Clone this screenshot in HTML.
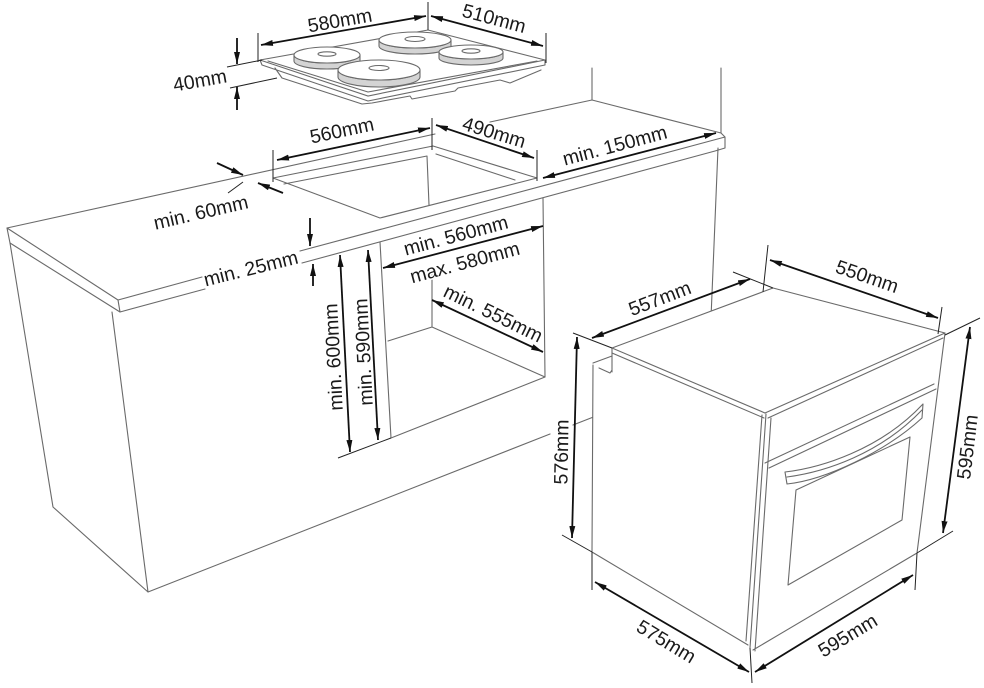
<!DOCTYPE html>
<html><head><meta charset="utf-8"><style>
html,body{margin:0;padding:0;background:#fff;}
svg{display:block;}
.o{stroke:#6a6a6a;stroke-width:1.1;fill:none;stroke-linecap:round;stroke-linejoin:round}
.d{stroke:#111;stroke-width:1.8;fill:none}
.e{stroke:#222;stroke-width:1;fill:none}
text{font-family:"Liberation Sans",Arial,sans-serif;font-size:19.5px;fill:#1a1a1a;text-anchor:middle;dominant-baseline:central;stroke:#fff;stroke-width:3;paint-order:stroke;}
</style></head><body>
<svg width="984" height="688" viewBox="0 0 984 688">
<defs><marker id="a" viewBox="0 0 12 6" refX="12" refY="3" markerWidth="12" markerHeight="6" markerUnits="userSpaceOnUse" orient="auto-start-reverse"><path d="M0,0 L12,3 L0,6 z" fill="#111"/></marker></defs>

<!-- walls -->
<path class="o" d="M592,68 L592,100 M721,68 L721,133"/>

<!-- countertop -->
<path class="o" d="M7,228 L435,134 M490,122 L592,100 L721,133 L725,137 L725,148 L715,151 M7,228 L118,300 L120,312 M7,228 L10,243 L120,312 M118,300 L202,277 M300,251 L725,137 M120,312 L205,289 M302,263 L715,151"/>

<!-- hob cutout -->
<path class="o" d="M273,178 L433,146 L537,178 L380,218 Z M284,184 L427,156 M427,156 L429,205 M436,154 L515,180"/>

<!-- cabinet -->
<path class="o" d="M10,243 L53,507 L148,592 L112,312 M148,592 L550,434 M573,425 L596,416 M718,148 L711,318"/>

<!-- niche -->
<path class="o" d="M380,242 L391,438 L545,377 L543,198 M432,275 L432,327 L388,341 M432,327 L545,377"/>
<path class="e" d="M338,458 L391,438"/>

<!-- hob -->
<polygon points="260,60 428,30 545,60 368,96" fill="#fff" stroke="#6a6a6a" stroke-width="1.1"/>
<path class="o" d="M260,60 L262,65 L368,101 L545,65 L545,60 M268,61 L368,92 L537,61 M275,68 L282,78 L362,104 L372,103 L410,96 L412,99 L455,91 L458,88 L500,80 L510,83 L541,70"/>
<!-- burners -->
<g stroke="#6a6a6a" stroke-width="1.1">
<path d="M379,40 A36,8 0 0 0 451,40 L451,46 A36,8 0 0 1 379,46 Z" fill="#d4d4d4"/>
<ellipse cx="415" cy="40" rx="36" ry="8" fill="#fff"/>
<ellipse cx="415" cy="39" rx="10" ry="2.5" fill="#fff"/>
<path d="M294,55 A33,8 0 0 0 360,55 L360,61 A33,8 0 0 1 294,61 Z" fill="#d4d4d4"/>
<ellipse cx="327" cy="55" rx="33" ry="8" fill="#fff"/>
<ellipse cx="327" cy="54" rx="9" ry="2.2" fill="#fff"/>
<path d="M439,52 A32,7 0 0 0 503,52 L503,58 A32,7 0 0 1 439,58 Z" fill="#d4d4d4"/>
<ellipse cx="471" cy="52" rx="32" ry="7" fill="#fff"/>
<ellipse cx="471" cy="51" rx="9" ry="2.2" fill="#fff"/>
<path d="M338,70 A41,10 0 0 0 420,70 L420,77 A41,10 0 0 1 338,77 Z" fill="#d4d4d4"/>
<ellipse cx="379" cy="70" rx="41" ry="10" fill="#fff"/>
<ellipse cx="379" cy="68" rx="10" ry="2.5" fill="#fff"/>
</g>

<!-- oven -->
<polygon points="593,363 612,348 773,288 945,333 917,553 750,647 592,552" fill="#fff"/>
<path class="o" d="M612,348 L773,288 L945,333 M612,348 L765,413 M612,353 L764,418 M593,365 L592,552 M592,552 L748,645 M762,415 L746,641 M766,414 L750,648 M771,418 L755,651 M753,650 L917,553 M945,333 L917,553 M765,413 L945,333 M768,418 L943,338 M765,463 L934,384 M769,468 L936,389"/>
<path class="o" d="M593,363 L612,356 M599,368 L610,373 L612,370 M612,348 L612,372"/>
<path class="o" d="M796,490 L910,437 L902,520 L788,585 Z"/>
<path class="o" fill="#fff" d="M785,472 C820,468 880,450 923,404 L922,418 C885,452 825,480 787,484 Z"/>
<path class="o" d="M787,477 C825,472 880,454 922,410"/>

<!-- extension lines -->
<path class="e" d="M258,33 L258,62 M428,2 L428,30 M546,33 L546,63 M227,67 L262,60 M230,88 L277,78 M273,150 L273,182 M432,118 L432,150 M537,150 L537,181 M228,193 L243,182 M573,333 L612,348 M733,272 L773,288 M768,245 L763,292 M942,307 L938,334 M945,335 L980,318 M917,553 L953,531 M917,553 L915,590 M562,535 L592,552 M592,552 L592,590 M750,648 L752,683"/>

<!-- dimension lines -->
<g class="d" marker-start="url(#a)" marker-end="url(#a)">
<path d="M261,45 L426,16"/>
<path d="M431,16 L543,46"/>
<path d="M277,160 L430,128"/>
<path d="M436,125 L534,158"/>
<path d="M543,178 L716,133"/>
<path d="M383,268 L543,226"/>
<path d="M432,300 L543,352"/>
<path d="M340,255 L350,452"/>
<path d="M368,250 L378,440"/>
<path d="M592,338 L750,279"/>
<path d="M770,260 L938,318"/>
<path d="M970,327 L943,533"/>
<path d="M577,337 L572,538"/>
<path d="M595,582 L749,672"/>
<path d="M755,672 L913,575"/>
</g>
<g class="d" marker-end="url(#a)">
<path d="M237,38 L237,64"/>
<path d="M237,110 L237,87"/>
<path d="M217,163 L243,175"/>
<path d="M283,193 L258,183"/>
<path d="M310,218 L310,246"/>
<path d="M313,286 L313,264"/>
</g>

<!-- labels -->
<text transform="translate(340,21) rotate(-10)">580mm</text>
<text transform="translate(494,19) rotate(15)">510mm</text>
<text transform="translate(200,81) rotate(-10)">40mm</text>
<text transform="translate(342,131) rotate(-12)">560mm</text>
<text transform="translate(494,133) rotate(17)">490mm</text>
<text transform="translate(615,146) rotate(-15)">min. 150mm</text>
<text transform="translate(201,213) rotate(-13)">min. 60mm</text>
<text transform="translate(251,269) rotate(-14)">min. 25mm</text>
<text transform="translate(456,236) rotate(-15)">min. 560mm</text>
<text transform="translate(465,263) rotate(-15)">max. 580mm</text>
<text transform="translate(493,314) rotate(26)">min. 555mm</text>
<text transform="translate(334,357) rotate(-93)">min. 600mm</text>
<text transform="translate(364,352) rotate(-93)">min. 590mm</text>
<text transform="translate(660,299) rotate(-21)">557mm</text>
<text transform="translate(867,277) rotate(19)">550mm</text>
<text transform="translate(968,447) rotate(-83)">595mm</text>
<text transform="translate(562,452) rotate(-89)">576mm</text>
<text transform="translate(666,642) rotate(31)">575mm</text>
<text transform="translate(848,636) rotate(-31)">595mm</text>
</svg>
</body></html>
